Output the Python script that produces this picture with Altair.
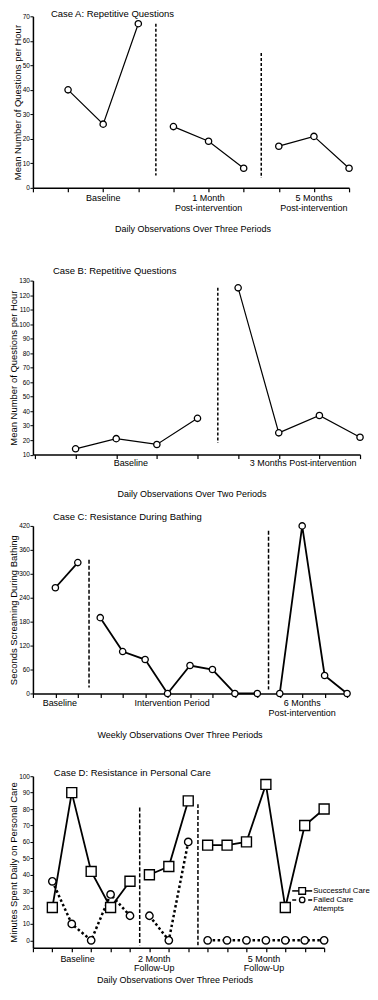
import altair as alt
import pandas as pd

FONT = "Liberation Sans"

# ---------------- Case A ----------------
a_pos = [1, 2, 3, 4, 5, 6, 7, 8, 9]
a_val = [40, 26, 67, 25, 19, 8, 17, 21, 8]
a_phase = ["Baseline"] * 3 + ["1 Month"] * 3 + ["5 Months"] * 3
a_div_x = [3.5, 6.5]
a_div_top = [67, 55]
a_div_bottom = [5, 4]
a_lab_x = [2, 5, 8]
a_lab_text = ["Baseline", "1 Month\nPost-intervention", "5 Months\nPost-intervention"]

# ---------------- Case B ----------------
b_pos = [1, 2, 3, 4, 5, 6, 7, 8]
b_val = [14, 21, 17, 35, 125, 25, 37, 22]
b_phase = ["Baseline"] * 4 + ["3 Months"] * 4
b_div_x = [4.5]
b_div_top = [125]
b_div_bottom = [18]
b_lab_x = [2.36, 6.6]
b_lab_text = ["Baseline", "3 Months  Post-intervention"]

# ---------------- Case C ----------------
c_pos = [1, 2, 3, 4, 5, 6, 7, 8, 9, 10, 11, 12, 13, 14]
c_val = [265, 328, 190, 105, 85, 0, 70, 60, 0, 0, 0, 420, 45, 0]
c_phase = ["Baseline"] * 2 + ["Intervention"] * 8 + ["6 Months"] * 4
c_div_x = [2.5, 10.5]
c_div_top = [335, 408]
c_div_bottom = [15, 10]
c_lab_x = [1.2, 6.2, 12.0]
c_lab_text = ["Baseline", "Intervention Period", "6 Months\nPost-intervention"]

# ---------------- Case D ----------------
d_pos = [1, 2, 3, 4, 5, 6, 7, 8, 9, 10, 11, 12, 13, 14, 15]
d_success = [20, 90, 42, 20, 36, 40, 45, 85, 58, 58, 60, 95, 20, 70, 80]
d_failed = [36, 10, 0, 28, 15, 15, 0, 60, 0, 0, 0, 0, 0, 0, 0]
d_phase = ["Baseline"] * 5 + ["2 Month"] * 3 + ["5 Month"] * 7
d_div_x = [5.5, 8.5]
d_div_top = [81, 83]
d_div_bottom = [-3, -3]
d_lab_x = [2.3, 6.25, 11.9]
d_lab_text = ["Baseline", "2 Month\nFollow-Up", "5 Month\nFollow-Up"]
d_legend = ["Successful Care", "Failed Care", "Attempts"]


def xscale(dom):
    return alt.Scale(domain=dom, nice=False, zero=False)


def yscale(dom):
    return alt.Scale(domain=dom, nice=False, zero=False)


def x_axis(ticks, title, tx, ty):
    return alt.Axis(values=ticks, labels=False, ticks=True, tickSize=4, tickWidth=1.2,
                    tickColor="black", domainColor="black", domainWidth=1.5, grid=False,
                    title=title, titleX=tx, titleY=ty, titleAlign="center",
                    titleBaseline="middle", titleFontSize=9, titleFontWeight="normal",
                    titleFont=FONT, titleColor="black")


def y_axis(ticks, title):
    return alt.Axis(values=ticks, tickSize=3, tickWidth=1, tickColor="black",
                    labelFontSize=6.5, labelPadding=0.5, labelColor="black", labelFont=FONT,
                    domainColor="black", domainWidth=1.5, grid=False,
                    title=title, titleFontSize=9.5, titlePadding=0, titleFont=FONT,
                    titleFontWeight="normal", titleColor="black")


def common_layers(xs, ys, xax, yax, height, divs, div_dash, labs, lab_dy, lab_lh,
                  title, tx, ty, spacer):
    div_df = pd.DataFrame({"x": divs[0], "top": divs[1], "bottom": divs[2]})
    rules = alt.Chart(div_df).mark_rule(color="black", strokeWidth=1.5,
                                        strokeDash=div_dash).encode(
        x=alt.X("x:Q", scale=xs, axis=xax),
        y=alt.Y("top:Q", scale=ys, axis=yax),
        y2="bottom:Q")
    lab_df = pd.DataFrame({"x": labs[0], "t": labs[1]})
    labels = alt.Chart(lab_df).mark_text(fontSize=9, font=FONT, color="black",
                                         align="center", baseline="top",
                                         lineBreak="\n", lineHeight=lab_lh).encode(
        x=alt.X("x:Q", scale=xs, axis=xax),
        y=alt.value(height + lab_dy),
        text="t:N")
    ttl = alt.Chart(pd.DataFrame({"t": [title]})).mark_text(
        fontSize=9.5, font=FONT, color="black", align="left", baseline="middle").encode(
        x=alt.value(tx), y=alt.value(ty), text="t:N")
    sp = alt.Chart(pd.DataFrame({"s": [0]})).mark_rule(strokeOpacity=0, opacity=0).encode(
        x=alt.value(0), y=alt.value(spacer[0]), y2=alt.value(spacer[1]))
    return [rules, labels, ttl, sp]


def simple_panel(pos, val, phase, xdom, ydom, xticks, yticks, width, height,
                 ytitle, xtitle, xt_x, xt_y, divs, div_dash, labs, lab_dy,
                 title, tx, ty, spacer, lw, psize):
    df = pd.DataFrame({"pos": pos, "value": val, "phase": phase})
    xs = xscale(xdom)
    ys = yscale(ydom)
    xax = x_axis(xticks, xtitle, xt_x, xt_y)
    yax = y_axis(yticks, ytitle)
    line = alt.Chart(df).mark_line(color="black", strokeWidth=lw).encode(
        x=alt.X("pos:Q", scale=xs, axis=xax),
        y=alt.Y("value:Q", scale=ys, axis=yax),
        detail="phase:N")
    pts = alt.Chart(df).mark_point(shape="circle", filled=True, fill="white",
                                   stroke="black", strokeWidth=1.3, size=psize,
                                   opacity=1).encode(
        x=alt.X("pos:Q", scale=xs, axis=xax),
        y=alt.Y("value:Q", scale=ys, axis=yax))
    extra = common_layers(xs, ys, xax, yax, height, divs, div_dash, labs, lab_dy, 10,
                          title, tx, ty, spacer)
    return alt.layer(line, pts, *extra).properties(width=width, height=height)


pA = simple_panel(a_pos, a_val, a_phase, [0, 9], [0, 70], list(range(0, 10)),
                  list(range(0, 71, 10)), 317, 172,
                  "Mean Number of Questions per Hour",
                  "Daily Observations Over Three Periods", 160, 41,
                  (a_div_x, a_div_top, a_div_bottom), [3, 2],
                  (a_lab_x, a_lab_text), 6,
                  "Case A:  Repetitive Questions", 18, -2, (-6, 234), 1.2, 40)

pB = simple_panel(b_pos, b_val, b_phase, [-0.05, 8], [10, 130], list(range(0, 9)),
                  list(range(10, 131, 10)), 328, 174.5,
                  "Mean Number of Questions per Hour",
                  "Daily Observations Over Two Periods", 159, 39,
                  (b_div_x, b_div_top, b_div_bottom), [3, 2],
                  (b_lab_x, b_lab_text), 4.5,
                  "Case B:  Repetitive Questions", 20, -9.5, (-30.5, 224.5), 1.2, 40)

pC = simple_panel(c_pos, c_val, c_phase, [0, 14], [0, 420], list(range(0, 15)),
                  list(range(0, 421, 60)), 315, 168,
                  "Seconds Screaming During Bathing",
                  "Weekly Observations Over Three Periods", 147, 41,
                  (c_div_x, c_div_top, c_div_bottom), [4, 2],
                  (c_lab_x, c_lab_text), 5.5,
                  "Case C:  Resistance During Bathing", 20, -9, (-21, 230), 1.8, 40)

# ---------------- Panel D ----------------
dW, dH = 292, 172
dfD = pd.DataFrame({"pos": d_pos, "success": d_success, "failed": d_failed, "phase": d_phase})
xsD = xscale([0, 15])
ysD = yscale([-4.5, 100])
xaxD = x_axis(list(range(0, 16)), "Daily Observations Over Three Periods", 142, 32)
yaxD = y_axis(list(range(0, 101, 10)), "Minutes Spent Daily on Personal Care")
d_fail_line = alt.Chart(dfD).mark_line(color="black", strokeWidth=2.5,
                                       strokeDash=[2.5, 2.5]).encode(
    x=alt.X("pos:Q", scale=xsD, axis=xaxD),
    y=alt.Y("failed:Q", scale=ysD, axis=yaxD),
    detail="phase:N")
d_succ_line = alt.Chart(dfD).mark_line(color="black", strokeWidth=1.8).encode(
    x=alt.X("pos:Q", scale=xsD, axis=xaxD),
    y=alt.Y("success:Q", scale=ysD, axis=yaxD),
    detail="phase:N")
d_fail_pts = alt.Chart(dfD).mark_point(shape="circle", filled=True, fill="white",
                                       stroke="black", strokeWidth=1.4, size=55,
                                       opacity=1).encode(
    x=alt.X("pos:Q", scale=xsD, axis=xaxD),
    y=alt.Y("failed:Q", scale=ysD, axis=yaxD))
d_succ_pts = alt.Chart(dfD).mark_point(shape="square", filled=True, fill="white",
                                       stroke="black", strokeWidth=1.4, size=100,
                                       opacity=1).encode(
    x=alt.X("pos:Q", scale=xsD, axis=xaxD),
    y=alt.Y("success:Q", scale=ysD, axis=yaxD))
d_extra = common_layers(xsD, ysD, xaxD, yaxD, dH, (d_div_x, d_div_top, d_div_bottom), [4, 2],
                        (d_lab_x, d_lab_text), 7, 9,
                        "Case D:  Resistance in Personal Care", 21, -3, (-21, 209))

# custom legend
one = pd.DataFrame({"k": [0]})
leg_l1 = alt.Chart(one).mark_rule(color="black", strokeWidth=1.5).encode(
    x=alt.value(260), x2=alt.value(280), y=alt.value(115))
leg_s1 = alt.Chart(one).mark_point(shape="square", filled=True, fill="white",
                                   stroke="black", strokeWidth=1.3, size=45,
                                   opacity=1).encode(x=alt.value(270), y=alt.value(115))
leg_l2 = alt.Chart(one).mark_rule(color="black", strokeWidth=1.5,
                                  strokeDash=[4, 4]).encode(
    x=alt.value(260), x2=alt.value(282), y=alt.value(124))
leg_s2 = alt.Chart(one).mark_point(shape="circle", filled=True, fill="white",
                                   stroke="black", strokeWidth=1.3, size=30,
                                   opacity=1).encode(x=alt.value(270), y=alt.value(124))
leg_texts = []
for lbl, yy in zip(d_legend, [115, 124, 133]):
    leg_texts.append(alt.Chart(pd.DataFrame({"t": [lbl]})).mark_text(
        fontSize=7.8, font=FONT, color="black", align="left", baseline="middle").encode(
        x=alt.value(281), y=alt.value(yy), text="t:N"))

pD = alt.layer(d_fail_line, d_succ_line, d_fail_pts, d_succ_pts, *d_extra,
               leg_l1, leg_l2, leg_s1, leg_s2, *leg_texts).properties(width=dW, height=dH)

chart = alt.vconcat(pA, pB, pC, pD, spacing=0).properties(
    padding=0, background="white"
).configure(font=FONT).configure_view(stroke=None).configure_axis(grid=False)

chart.save("out.html", embed_options={"renderer": "svg", "actions": False})
